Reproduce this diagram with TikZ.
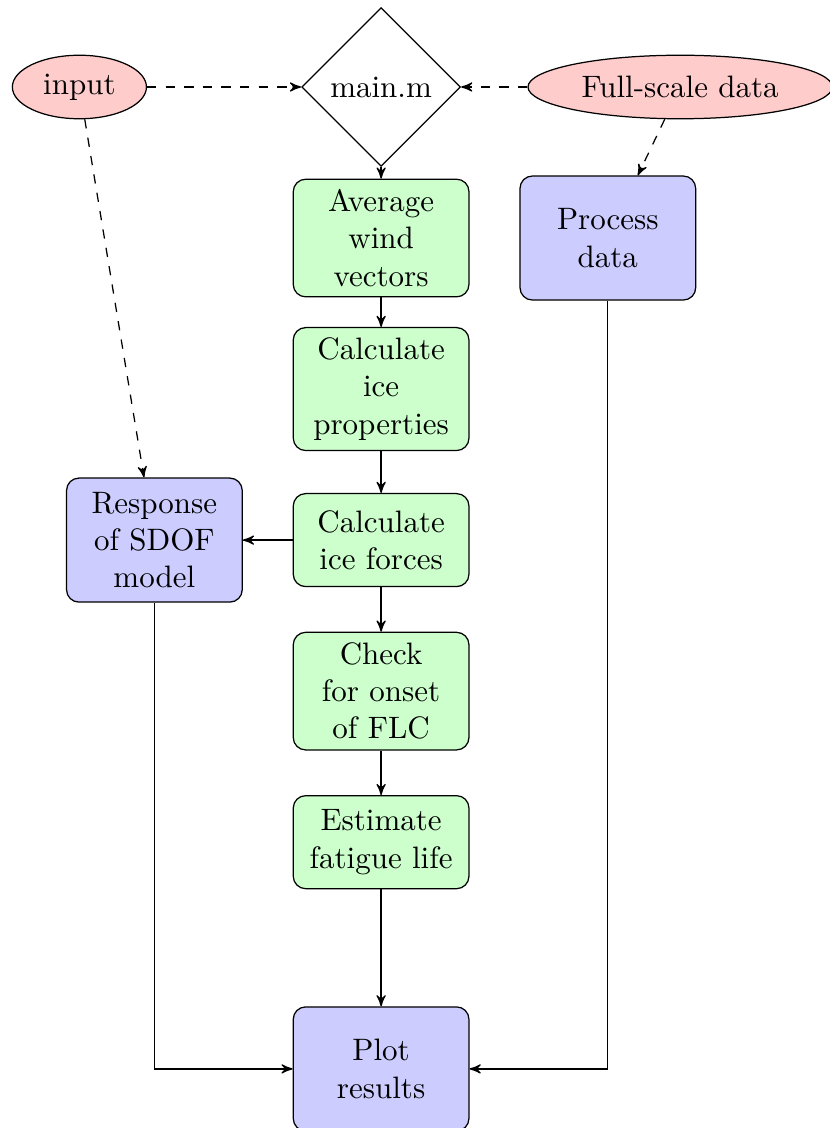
\documentclass[tikz,border=0pt]{standalone}
\usepackage{tikz}
\usetikzlibrary{shapes.geometric, positioning, arrows}
\tikzset{
  >=stealth',
  node distance=1.712cm,
  block/.style={rectangle, draw, fill=green!20, text width=5em, text centered, rounded corners, minimum height=3em},
  process/.style={block, fill=blue!20, minimum height=4em},
  io/.style={ellipse, draw, fill=red!20, minimum height=0.72cm, inner sep=0pt},
  decision/.style={diamond, draw, aspect=1, minimum size=1.8cm, inner sep=1pt},
  flow/.style={->},
  dataline/.style={->, dashed},
}

\begin{document}
\begin{tikzpicture}
		\useasboundingbox (-4.32,0.986) rectangle (5.08,-11.80);

		% nodes
		\node[decision] (main) {main.m};
		\node[io, minimum width=1.52cm, left of=main, node distance=3.42cm] (input) {input};
		\node[io, minimum width=3.45cm, right of=main, node distance=3.39cm] (full) {Full-scale data};
		\node[block, below of=main] (avg) {Average\\ wind\\ vectors};
		\node[block, below of=avg] (props) {Calculate\\ ice\\ properties};
		\node[block, below of=props] (forces) {Calculate\\ ice forces};
		\node[block, below of=forces] (flc) {Check\\ for onset\\ of FLC};
		\node[block, below of=flc] (fatigue) {Estimate\\ fatigue life};
		\node[process, below of=fatigue, node distance=2.57cm] (plot) {Plot\\ results};
		\node[process, right of=avg, node distance=2.57cm] (data) {Process\\ data};
		\node[process, left of=forces, node distance=2.57cm] (sdof) {Response\\ of SDOF\\ model};

		% data flow
		\draw[dataline] (input) edge (main)
		(full) edge (main)
		(input) edge (sdof)
		(full) edge (data);

		% program flow
		\draw[flow] (main) edge (avg)
		(avg) edge (props)
		(props) edge (forces)
		(forces) edge (flc)
		(flc) edge (fatigue)
		(fatigue) edge (plot)
		(forces) edge (sdof);
		\draw[flow] (sdof) |- (plot);
		\draw[flow] (data) |- (plot);

	\end{tikzpicture}
\end{document}
